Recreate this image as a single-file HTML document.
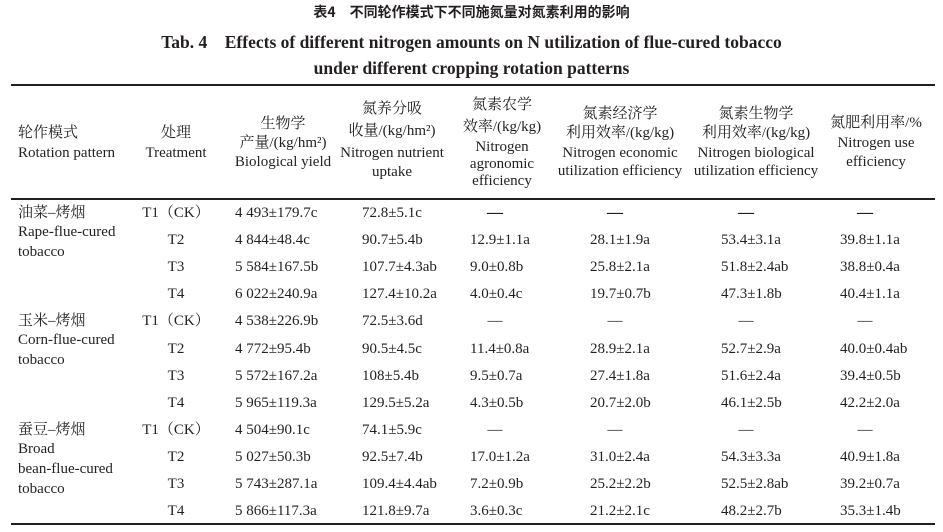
<!DOCTYPE html>
<html><head><meta charset="utf-8"><style>
body{margin:0;width:943px;height:532px;background:#fff;overflow:hidden;position:relative;font-family:"Liberation Serif","Noto Serif CJK SC",serif;color:#231f20}
.t{position:absolute;white-space:nowrap;font-size:15px;line-height:18px;transform:translateY(-9px)}
.c{transform:translate(-50%,-9px)}
.rule{position:absolute;left:11px;width:924px;background:#231f20}
.title{position:absolute;left:0;width:943px;text-align:center;font-weight:bold;white-space:nowrap;line-height:20px}
</style></head><body>
<div class="title" style="top:2px;font-size:14px;font-family:'Noto Sans CJK SC',sans-serif">表4　不同轮作模式下不同施氮量对氮素利用的影响</div>
<div class="title" style="top:32px;font-size:17.5px">Tab. 4　Effects of different nitrogen amounts on N utilization of flue-cured tobacco</div>
<div class="title" style="top:58px;font-size:17.5px">under different cropping rotation patterns</div>
<div class="rule" style="top:84px;height:2px"></div>
<div class="rule" style="top:198px;height:2px"></div>
<div class="rule" style="top:523px;height:2px"></div>
<div id="tbl"></div>
<script>
const headers=[
 [18,false,[[133,"轮作模式"],[153,"Rotation pattern"]]],
 [176,true,[[133,"处理"],[153,"Treatment"]]],
 [283,true,[[124,"生物学"],[143,"产量/(kg/hm²)"],[162,"Biological yield"]]],
 [392,true,[[109,"氮养分吸"],[131,"收量/(kg/hm²)"],[153,"Nitrogen nutrient"],[172,"uptake"]]],
 [502,true,[[105,"氮素农学"],[127,"效率/(kg/kg)"],[147,"Nitrogen"],[164,"agronomic"],[181,"efficiency"]]],
 [620,true,[[114,"氮素经济学"],[133,"利用效率/(kg/kg)"],[153,"Nitrogen economic"],[171,"utilization efficiency"]]],
 [756,true,[[114,"氮素生物学"],[133,"利用效率/(kg/kg)"],[153,"Nitrogen biological"],[171,"utilization efficiency"]]],
 [876,true,[[123,"氮肥利用率/%"],[143,"Nitrogen use"],[162,"efficiency"]]]
];
const treatments=["T1（CK）","T2","T3","T4","T1（CK）","T2","T3","T4","T1（CK）","T2","T3","T4"];
const yieldVals=["4 493±179.7c","4 844±48.4c","5 584±167.5b","6 022±240.9a","4 538±226.9b","4 772±95.4b","5 572±167.2a","5 965±119.3a","4 504±90.1c","5 027±50.3b","5 743±287.1a","5 866±117.3a"];
const uptakeVals=["72.8±5.1c","90.7±5.4b","107.7±4.3ab","127.4±10.2a","72.5±3.6d","90.5±4.5c","108±5.4b","129.5±5.2a","74.1±5.9c","92.5±7.4b","109.4±4.4ab","121.8±9.7a"];
const agroVals=["—","12.9±1.1a","9.0±0.8b","4.0±0.4c","—","11.4±0.8a","9.5±0.7a","4.3±0.5b","—","17.0±1.2a","7.2±0.9b","3.6±0.3c"];
const econVals=["—","28.1±1.9a","25.8±2.1a","19.7±0.7b","—","28.9±2.1a","27.4±1.8a","20.7±2.0b","—","31.0±2.4a","25.2±2.2b","21.2±2.1c"];
const bioVals=["—","53.4±3.1a","51.8±2.4ab","47.3±1.8b","—","52.7±2.9a","51.6±2.4a","46.1±2.5b","—","54.3±3.3a","52.5±2.8ab","48.2±2.7b"];
const nueVals=["—","39.8±1.1a","38.8±0.4a","40.4±1.1a","—","40.0±0.4ab","39.4±0.5b","42.2±2.0a","—","40.9±1.8a","39.2±0.7a","35.3±1.4b"];
const patterns=[["油菜–烤烟","Rape-flue-cured","tobacco"],["玉米–烤烟","Corn-flue-cured","tobacco"],["蚕豆–烤烟","Broad","bean-flue-cured","tobacco"]];
const tbl=document.getElementById('tbl');
function put(x,y,txt,center,name,style){
 const d=document.createElement('div');
 d.className='t'+(center?' c':'');
 d.style.left=x+'px';d.style.top=y+'px';
 if(style)d.style.cssText+=style;
 d.textContent=txt;
 
 
 tbl.appendChild(d);
}
headers.forEach((h,i)=>h[2].forEach(l=>put(h[0],l[0],l[1],h[1],'header-col'+(i+1))));
const y0=213,dy=27.1;
const cols=[[yieldVals,235,'yield'],[uptakeVals,362,'uptake'],[agroVals,470,'agronomic'],[econVals,590,'economic'],[bioVals,721,'biological'],[nueVals,840,'nue']];
for(let r=0;r<12;r++){
 const y=y0+r*dy;
 put(176,y,treatments[r],true,'treatment-cell');
 cols.forEach(c=>{
  const v=c[0][r];
  if(v==="—"){put(c[1]+25,y,"—",true,c[2]+'-cell',r===0?'font-weight:bold;font-size:16px':'');}
  else put(c[1],y,v,false,c[2]+'-cell');
 });
}
patterns.forEach((p,g)=>{
 const ys=y0+g*4*dy;
 p.forEach((l,k)=>put(18,ys+k*20-(k>0?1:0),l,false,'rotation-pattern-label'));
});
</script>
</body></html>
